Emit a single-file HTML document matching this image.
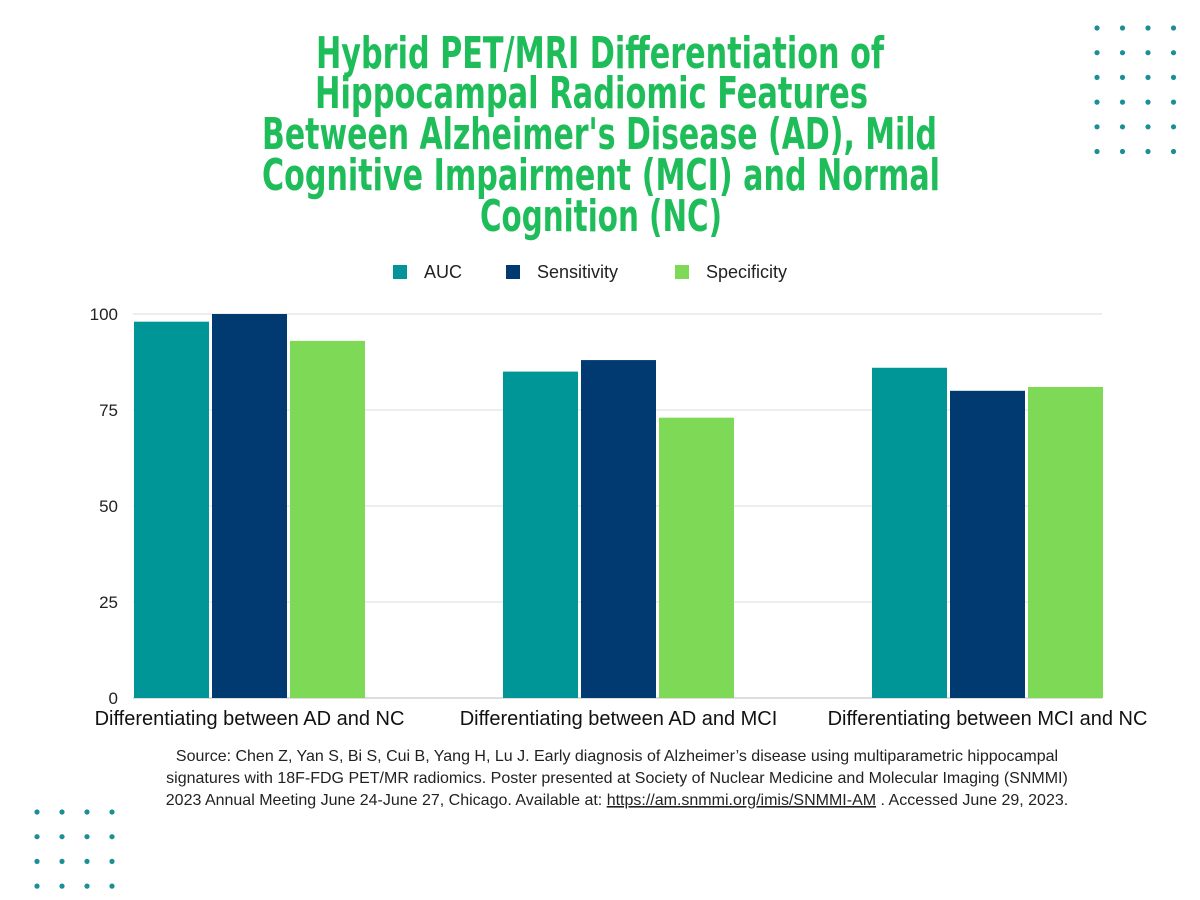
<!DOCTYPE html>
<html><head><meta charset="utf-8"><style>
body{margin:0;background:#fff;}
svg{display:block;font-family:"Liberation Sans",sans-serif;}
</style></head><body>
<svg width="1200" height="900" viewBox="0 0 1200 900">
<g id="dots"></g>
<g fill="#1ebd5a" font-family="'Liberation Sans Narrow','DejaVu Sans Condensed',sans-serif" font-weight="bold" font-size="44">
<text x="316" y="68" textLength="568" lengthAdjust="spacingAndGlyphs">Hybrid PET/MRI Differentiation of</text>
<text x="315" y="108" textLength="553" lengthAdjust="spacingAndGlyphs">Hippocampal Radiomic Features</text>
<text x="262" y="149" textLength="675" lengthAdjust="spacingAndGlyphs">Between Alzheimer's Disease (AD), Mild</text>
<text x="262" y="190" textLength="678" lengthAdjust="spacingAndGlyphs">Cognitive Impairment (MCI) and Normal</text>
<text x="480" y="231" textLength="242" lengthAdjust="spacingAndGlyphs">Cognition (NC)</text>
</g>
<g id="legend" font-size="18" fill="#222"></g>
<g id="grid"></g>
<g id="bars"></g>
<g id="xlabels" font-size="20" fill="#111" text-anchor="middle"></g>
<g font-size="16" fill="#222" text-anchor="middle">
<text x="617" y="761">Source: Chen Z, Yan S, Bi S, Cui B, Yang H, Lu J. Early diagnosis of Alzheimer’s disease using multiparametric hippocampal</text>
<text x="617" y="783">signatures with 18F-FDG PET/MR radiomics. Poster presented at Society of Nuclear Medicine and Molecular Imaging (SNMMI)</text>
<text x="617" y="805">2023 Annual Meeting June 24-June 27, Chicago. Available at: <tspan text-decoration="underline">https://am.snmmi.org/imis/SNMMI-AM</tspan> . Accessed June 29, 2023.</text>
</g>
</svg>
<script>
const categories=["Differentiating between AD and NC","Differentiating between AD and MCI","Differentiating between MCI and NC"];
const seriesNames=["AUC","Sensitivity","Specificity"];
const aucValues=[98,85,86];
const sensitivityValues=[100,88,80];
const specificityValues=[93,73,81];
const yTicks=[0,25,50,75,100];
const colors=["#009597","#003a70","#7ed957"];
const NS="http://www.w3.org/2000/svg";
function mk(t,a,p){const e=document.createElementNS(NS,t);for(const k in a)e.setAttribute(k,a[k]);p.appendChild(e);return e;}
const x0=133,x1=1102,yBase=698,yTop=314;
const y=v=>yBase-(v/100)*(yBase-yTop);
const bw=75,gap=3;
const groupStep=(x1-x0-(3*bw+2*gap))/(categories.length-1);
const grid=document.getElementById('grid');
yTicks.forEach(t=>{
 const l=mk('line',{x1:x0,x2:x1,y1:y(t),y2:y(t),stroke:t===0?'#bbb':'#ddd','stroke-width':1},grid);
 
 
 const tx=mk('text',{x:118,y:y(t)+6,'text-anchor':'end','font-size':17,fill:'#222'},grid);
 tx.textContent=t;
 
 
});
const series=[aucValues,sensitivityValues,specificityValues];
const bars=document.getElementById('bars');
categories.forEach((c,i)=>{
 const gx=x0+1+i*groupStep;
 series.forEach((s,j)=>{
  const r=mk('rect',{x:gx+j*(bw+gap),y:y(s[i]),width:bw,height:yBase-y(s[i]),fill:colors[j]},bars);
  
  
 });
 const t=mk('text',{x:gx+(3*bw+2*gap)/2,y:725},document.getElementById('xlabels'));
 t.textContent=c;
 
 
});
const lg=document.getElementById('legend');
const lx=[393,506,675];
seriesNames.forEach((n,j)=>{
 const r=mk('rect',{x:lx[j],y:265,width:14,height:14,fill:colors[j]},lg);
 
 
 const t=mk('text',{x:lx[j]+31,y:278},lg);
 t.textContent=n;
 
 
});
const dg=document.getElementById('dots');
for(let r=0;r<6;r++)for(let c=0;c<4;c++){
 const d=mk('circle',{cx:1097+c*25.5,cy:28+r*24.7,r:2.6,fill:'#1a8f95'},dg);
 
 
}
for(let r=0;r<4;r++)for(let c=0;c<4;c++){
 const d=mk('circle',{cx:37+c*25,cy:812+r*24.7,r:2.6,fill:'#1a8f95'},dg);
 
 
}
</script>
</body></html>
